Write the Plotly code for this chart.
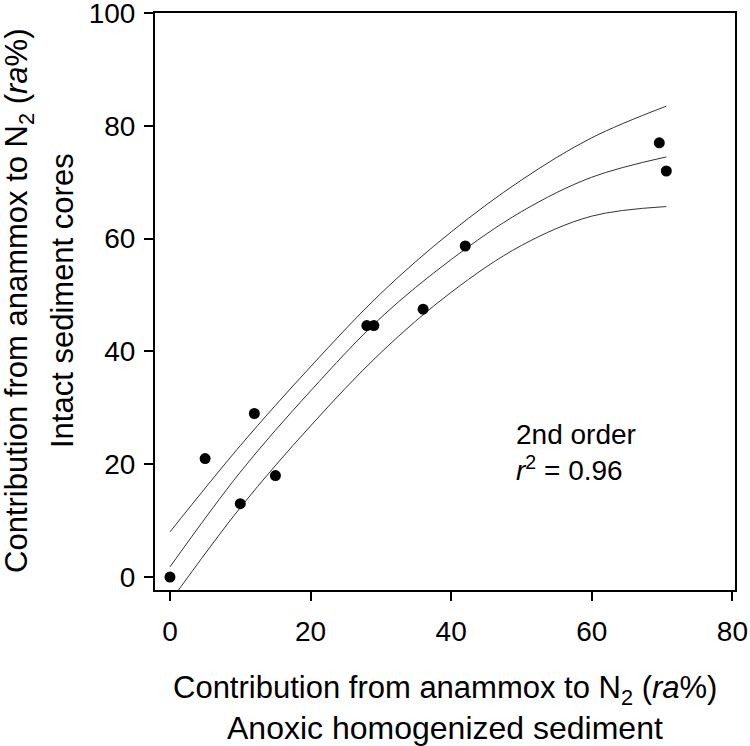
import plotly.graph_objects as go

# Measured points
x_data = [0, 5, 10, 12, 15, 28, 29, 36, 42, 69.6, 70.6]
y_data = [0, 21, 13, 29, 18, 44.6, 44.6, 47.5, 58.7, 77, 72]

# Curves (2nd-order fit and its confidence band)
curve_x = [0, 10, 20, 30, 40, 50, 60, 70.6]
fit_y = [1.8, 18.6, 33.0, 46.0, 56.3, 64.8, 70.9, 74.5]
upper_y = [8.0, 23.3, 37.3, 50.3, 61.2, 70.4, 77.9, 83.5]
lower_y = [-4.4, 12.3, 26.8, 39.8, 50.5, 58.8, 64.0, 65.7]

x_ticks = [0, 20, 40, 60, 80]
y_ticks = [0, 20, 40, 60, 80, 100]

x_title = ["Contribution from anammox to N<sub>2</sub> (<i>ra</i>%)", "Anoxic homogenized sediment"]
y_title = ["Contribution from anammox to N<sub>2</sub> (<i>ra</i>%)", "Intact sediment cores"]
fit_label = "2nd order<br><i>r</i><sup>2</sup> = 0.96"

FONT = "Liberation Sans, Arial, sans-serif"
fig = go.Figure()

line_style = dict(color="#333333", width=1, shape="spline", smoothing=1.0)
fig.add_trace(go.Scatter(x=curve_x, y=upper_y, mode="lines", line=line_style, hoverinfo="skip"))
fig.add_trace(go.Scatter(x=curve_x, y=fit_y, mode="lines", line=line_style, hoverinfo="skip"))
fig.add_trace(go.Scatter(x=curve_x, y=lower_y, mode="lines", line=line_style, hoverinfo="skip"))
fig.add_trace(go.Scatter(x=x_data, y=y_data, mode="markers",
                         marker=dict(color="black", size=11)))

axis_common = dict(showgrid=False, zeroline=False, showline=True, mirror=True,
                   linecolor="black", linewidth=2, ticks="outside", ticklen=9,
                   tickwidth=2, tickcolor="black", automargin=False,
                   ticklabeloverflow="allow",
                   tickfont=dict(family=FONT, size=28, color="black"))

fig.update_xaxes(range=[-2.13, 80.37], tickvals=x_ticks, ticklabelstandoff=6, **axis_common)
fig.update_yaxes(range=[-2.3, 100.02], tickvals=y_ticks, ticklabelstandoff=3, **axis_common)

title_font = dict(family=FONT, size=31, color="black")
fig.add_annotation(xref="paper", yref="paper", x=0.5, y=-0.1733, yanchor="middle",
                   text=x_title[0], showarrow=False, font=title_font)
fig.add_annotation(xref="paper", yref="paper", x=0.5, y=-0.2392, yanchor="middle",
                   text=x_title[1], showarrow=False,
                   font=dict(family=FONT, size=32, color="black"))
fig.add_annotation(xref="paper", yref="paper", x=-0.2345, y=0.5009, xanchor="center",
                   yanchor="middle", textangle=-90,
                   text=y_title[0], showarrow=False, font=title_font)
fig.add_annotation(xref="paper", yref="paper", x=-0.1586, y=0.5009, xanchor="center",
                   yanchor="middle", textangle=-90,
                   text=y_title[1], showarrow=False, font=title_font)
fig.add_annotation(x=49.0, y=22, xanchor="left", align="left",
                   text=fit_label, showarrow=False,
                   font=dict(family=FONT, size=28, color="black"))

fig.update_layout(width=750, height=746, margin=dict(l=155, r=15, t=13, b=156),
                  plot_bgcolor="white", paper_bgcolor="white", showlegend=False)

fig.write_html("out.html", config={"displayModeBar": False},
               post_script="document.body.style.margin='0';")
